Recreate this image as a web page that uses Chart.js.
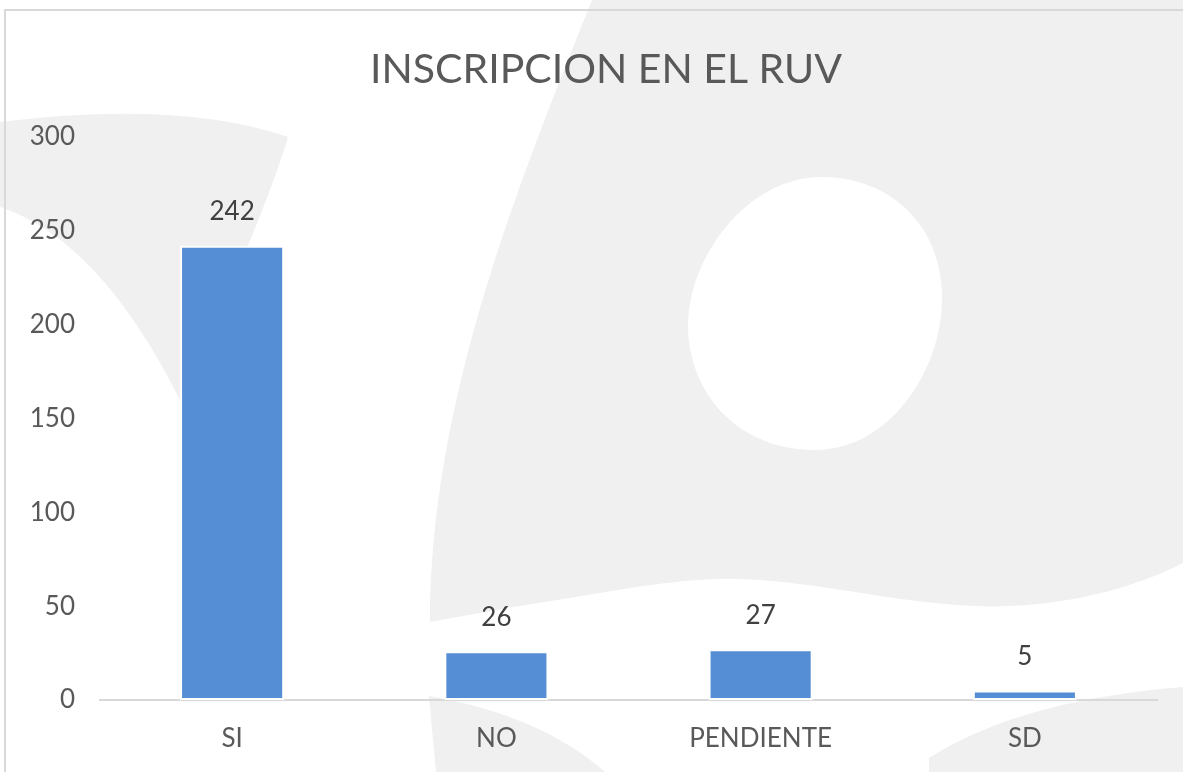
<!DOCTYPE html>
<html>
<head>
<meta charset="utf-8">
<script src="https://cdn.jsdelivr.net/npm/chart.js@4.4.1/dist/chart.umd.min.js"></script>
<style>
  html, body { margin: 0; padding: 0; background: #ffffff; }
  #wrap { position: relative; width: 1183px; height: 772px; }
</style>
</head>
<body>
<div id="wrap"><canvas id="c" width="1183" height="772"></canvas></div>
<script>
const TITLE = "INSCRIPCION EN EL RUV";
const categories = ["SI", "NO", "PENDIENTE", "SD"];
const values = [242, 26, 27, 5];
const yMin = 0;
const yMax = 300;
const yStep = 50;

const FONT = "Lato";

const backgroundPlugin = {
  id: 'bg',
  beforeDraw(chart) {
    const ctx = chart.ctx;
    ctx.save();
    ctx.fillStyle = '#ffffff';
    ctx.fillRect(0, 0, chart.width, chart.height);
    ctx.fillStyle = '#EFF0EF';
    // left wedge
    ctx.beginPath();
    ctx.moveTo(0, 122);
    ctx.quadraticCurveTo(180, 100, 288, 137);
    ctx.quadraticCurveTo(265, 215, 180, 400);
    ctx.quadraticCurveTo(100, 240, 0, 207);
    ctx.closePath();
    ctx.fill();
    // big shape
    ctx.beginPath();
    ctx.moveTo(592, 0);
    ctx.bezierCurveTo(520, 180, 430, 400, 430, 622);
    ctx.quadraticCurveTo(515, 606, 600, 593);
    ctx.bezierCurveTo(660, 583, 700, 578, 740, 579);
    ctx.bezierCurveTo(830, 582, 920, 610, 1010, 606);
    ctx.bezierCurveTo(1080, 603, 1140, 585, 1183, 563);
    ctx.lineTo(1183, 0);
    ctx.closePath();
    ctx.fill();
    // hole
    ctx.fillStyle = '#ffffff';
    ctx.beginPath();
    ctx.moveTo(822, 177);
    ctx.bezierCurveTo(890, 177, 942, 225, 942, 298);
    ctx.bezierCurveTo(942, 370, 890, 450, 814, 450);
    ctx.bezierCurveTo(740, 450, 688, 395, 688, 325);
    ctx.bezierCurveTo(688, 260, 745, 177, 822, 177);
    ctx.closePath();
    ctx.fill();
    ctx.fillStyle = '#EFF0EF';
    // bottom middle
    ctx.beginPath();
    ctx.moveTo(429, 696);
    ctx.quadraticCurveTo(540, 715, 605, 772);
    ctx.lineTo(436, 772);
    ctx.closePath();
    ctx.fill();
    // bottom right
    ctx.beginPath();
    ctx.moveTo(929, 772);
    ctx.lineTo(929, 758);
    ctx.quadraticCurveTo(1020, 700, 1183, 687);
    ctx.lineTo(1183, 772);
    ctx.closePath();
    ctx.fill();
    // frame
    ctx.strokeStyle = '#D9D9D9';
    ctx.lineWidth = 2;
    ctx.beginPath();
    ctx.moveTo(5, 772);
    ctx.lineTo(5, 10);
    ctx.lineTo(1183, 10);
    ctx.stroke();
    // title
    ctx.font = `41px ${FONT}`;
    ctx.fillStyle = '#595959';
    ctx.textAlign = 'center';
    ctx.textBaseline = 'alphabetic';
    ctx.fillText(TITLE, 606, 83);
    ctx.restore();
  }
};

const labelPlugin = {
  id: 'valueLabels',
  afterDatasetsDraw(chart) {
    const ctx = chart.ctx;
    const meta = chart.getDatasetMeta(0);
    ctx.save();
    ctx.font = `26px ${FONT}`;
    ctx.fillStyle = '#404040';
    ctx.textAlign = 'center';
    ctx.textBaseline = 'middle';
    meta.data.forEach((bar, i) => {
      ctx.fillText(String(values[i]), bar.x, bar.y - 34);
    });
    ctx.restore();
  }
};

new Chart(document.getElementById('c'), {
  type: 'bar',
  data: {
    labels: categories,
    datasets: [{
      data: values,
      backgroundColor: '#558ED5',
      borderColor: '#ffffff',
      borderWidth: 2,
      borderSkipped: false,
      barPercentage: 1,
      categoryPercentage: 0.394
    }]
  },
  options: {
    responsive: false,
    animation: false,
    devicePixelRatio: 1,
    layout: { padding: { top: 137, right: 26, bottom: 0, left: 0 } },
    plugins: {
      legend: { display: false },
      tooltip: { enabled: false },
      title: { display: false }
    },
    scales: {
      x: {
        grid: { display: false, drawTicks: false },
        border: { display: true, color: '#D9D9D9', width: 2 },
        ticks: { color: '#595959', font: { family: FONT, size: 26 }, padding: 23 },
        afterFit(s) { s.height = 72; }
      },
      y: {
        min: yMin, max: yMax,
        grid: { display: false, drawTicks: false },
        border: { display: false },
        ticks: { stepSize: yStep, color: '#595959', font: { family: FONT, size: 26 }, padding: 25 },
        afterFit(s) { s.width = 100; }
      }
    }
  },
  plugins: [backgroundPlugin, labelPlugin]
});
</script>
</body>
</html>
